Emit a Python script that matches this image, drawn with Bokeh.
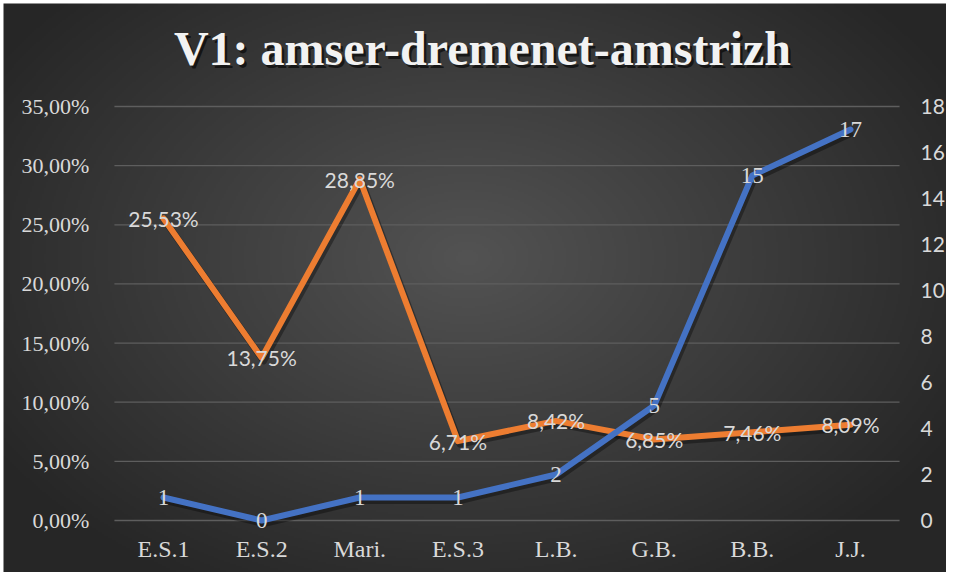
import numpy as np
from bokeh.plotting import figure
from bokeh.models import Range1d, LinearAxis, FixedTicker, CustomJSTickFormatter, Label
from bokeh.embed import file_html
from bokeh.resources import INLINE
from bokeh.core.properties import value

# ---- data ----
categories = ["E.S.1", "E.S.2", "Mari.", "E.S.3", "L.B.", "G.B.", "B.B.", "J.J."]
percent_values = [25.53, 13.75, 28.85, 6.71, 8.42, 6.85, 7.46, 8.09]
count_values = [1, 0, 1, 1, 2, 5, 15, 17]
left_ticks = [0, 5, 10, 15, 20, 25, 30, 35]
right_ticks = [0, 2, 4, 6, 8, 10, 12, 14, 16, 18]
title_text = "V1: amser-dremenet-amstrizh"

# ---- layout ----
W, H = 946, 572
off = 3.0             # shift relative to reference pixels
edge = 3.0            # white strip at left/top
x0px = 166.0 - off    # pixel of first category
step = 98.14          # pixels per category
zero_px = H - (523.0 - off)   # pixels from bottom for value 0
top_px = H - (109.0 - off)    # pixels from bottom for 35 %
ppp = (top_px - zero_px) / left_ticks[-1]
ratio = right_ticks[-1] / left_ticks[-1]

xs = list(range(len(categories)))
x_start, x_end = -x0px / step, (W - x0px) / step
y_start, y_end = -zero_px / ppp, (H - zero_px) / ppp

p = figure(width=W, height=H, x_range=Range1d(x_start, x_end), y_range=Range1d(y_start, y_end),
           output_backend="svg", toolbar_location=None, x_axis_type=None, y_axis_type=None,
           min_border=0, outline_line_color=None, background_fill_color="white",
           border_fill_color="white")
p.extra_y_ranges = {
    "right": Range1d(y_start * ratio, y_end * ratio),
    "lshadow": Range1d(y_start + 3 / ppp, y_end + 3 / ppp),
    "rshadow": Range1d((y_start + 3 / ppp) * ratio, (y_end + 3 / ppp) * ratio),
}
p.extra_x_ranges = {"xshadow": Range1d(x_start - 2 / step, x_end - 2 / step)}

# ---- background gradient (radial, dark grey) ----
bw, bh = W - edge, H - edge
gw, gh = 472, 285
gx = edge + (np.arange(gw) + 0.5) * (bw / gw)
gy = (np.arange(gh) + 0.5) * (bh / gh)          # from bottom
GX, GY = np.meshgrid(gx, gy)
cx, cy, rx, ry = 470.0 - off, H - (260.0 - off), 560.0, 380.0
r = np.sqrt(((GX - cx) / rx) ** 2 + ((GY - cy) / ry) ** 2)
v = (83 - (83 - 38) * np.clip(r, 0, 1)).astype(np.uint8)
img = np.empty((gh, gw), dtype=np.uint32)
view = img.view(dtype=np.uint8).reshape((gh, gw, 4))
view[..., 0] = v
view[..., 1] = v
view[..., 2] = v
view[..., 3] = 255
p.image_rgba(image=[img], x=x_start + edge / step, y=y_start, dw=bw / step, dh=bh / ppp, level="image")

# ---- gridlines ----
p.segment(x0=-0.5, x1=len(categories) - 0.5, y0=left_ticks, y1=left_ticks,
          line_color="#5e5e5e", line_width=1.3)

# ---- axes ----
label_color = "#d9d9d9"
left_axis = LinearAxis(fixed_location=-0.5, ticker=FixedTicker(ticks=left_ticks),
                       formatter=CustomJSTickFormatter(code="return tick.toFixed(2).replace('.', ',') + '%';"),
                       major_tick_out=0, major_tick_in=0, minor_tick_out=0, minor_tick_in=0,
                       axis_line_color=None, major_label_standoff=25,
                       major_label_text_font="Liberation Serif", major_label_text_font_size="22px",
                       major_label_text_color=label_color)
p.add_layout(left_axis, "left")

right_axis = LinearAxis(y_range_name="right", fixed_location=len(categories) - 0.5,
                        ticker=FixedTicker(ticks=right_ticks),
                        major_tick_out=0, major_tick_in=0, minor_tick_out=0, minor_tick_in=0,
                        axis_line_color=None, major_label_standoff=21,
                        major_label_text_font="Lato", major_label_text_font_size="21px",
                        major_label_text_color=label_color)
p.add_layout(right_axis, "right")

bottom_axis = LinearAxis(fixed_location=0, ticker=FixedTicker(ticks=xs),
                         formatter=CustomJSTickFormatter(args=dict(labels=categories),
                                                         code="return labels[Math.round(tick)];"),
                         major_tick_out=0, major_tick_in=0, minor_tick_out=0, minor_tick_in=0,
                         axis_line_color=None, major_label_standoff=15,
                         major_label_text_font="Liberation Serif", major_label_text_font_size="24px",
                         major_label_text_color=label_color)
p.add_layout(bottom_axis, "below")

# ---- shadows ----
p.line(xs, percent_values, x_range_name="xshadow", y_range_name="lshadow",
       line_color="black", line_alpha=0.35, line_width=7, line_join="round")
p.line(xs, count_values, x_range_name="xshadow", y_range_name="rshadow",
       line_color="black", line_alpha=0.35, line_width=7, line_join="round")

# ---- series ----
p.line(xs, percent_values, line_color="#ED7D31", line_width=6, line_join="round", line_cap="round")
p.line(xs, count_values, y_range_name="right", line_color="#4472C4", line_width=6,
       line_join="round", line_cap="round")

# ---- data labels ----
pct_labels = [("%.2f" % val).replace(".", ",") + "%" for val in percent_values]
cnt_labels = [str(val) for val in count_values]
p.text(x=xs, y=percent_values, text=pct_labels, text_align="center", text_baseline="middle",
       text_font=value("Lato"), text_font_size="21px", text_color=label_color)
p.text(x=xs, y=count_values, text=cnt_labels, y_range_name="right", text_align="center",
       text_baseline="middle", text_font=value("Liberation Serif"), text_font_size="23px",
       text_color=label_color)

# ---- title ----
tx = (485 - off - x0px) / step
ty = (H - (51 - off) - zero_px) / ppp
p.add_layout(Label(x=tx + 2.5 / step, y=ty - 2.5 / ppp, text=title_text, text_align="center",
                   text_baseline="middle", text_font="Liberation Serif", text_font_style="bold",
                   text_font_size="48px", text_color="black", text_alpha=0.6))
p.add_layout(Label(x=tx, y=ty, text=title_text, text_align="center", text_baseline="middle",
                   text_font="Liberation Serif", text_font_style="bold", text_font_size="48px",
                   text_color="#f2f2f2"))

open("out.html", "w").write(file_html(p, INLINE))
